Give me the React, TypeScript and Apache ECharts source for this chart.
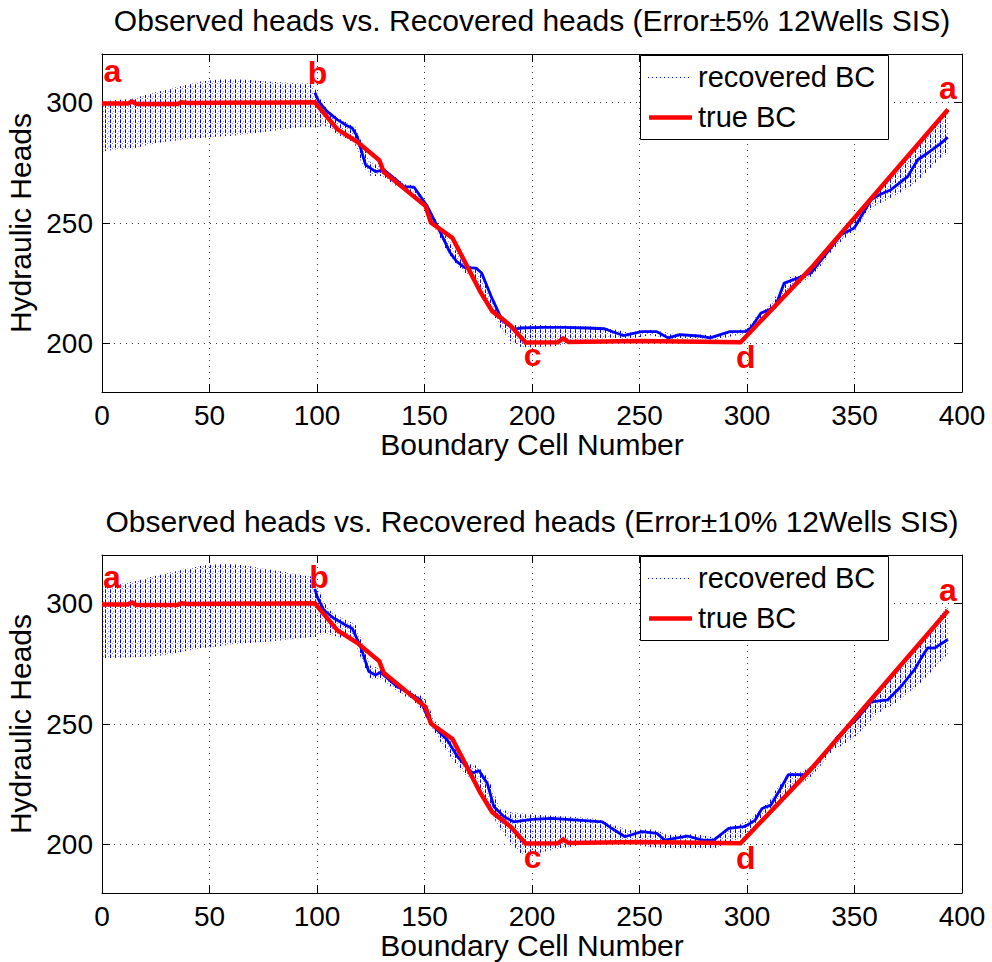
import React, { useEffect, useRef } from 'react';
import * as echarts from 'echarts';

const FONT = '"Liberation Sans", Arial, Helvetica, sans-serif';

// ---------- data ----------
const titles = [
  'Observed heads vs. Recovered heads (Error±5% 12Wells SIS)',
  'Observed heads vs. Recovered heads (Error±10% 12Wells SIS)',
];
const xAxisName = 'Boundary Cell Number';
const yAxisName = 'Hydraulic Heads';
const legendNames = ['recovered BC', 'true BC'];
const yTicks = [200, 250, 300];
const xRange = [0, 400];
const yRange = [180, 320];

// true boundary condition [cell, head] (same in both panels)
const trueBC = [
  [0, 299.5], [12, 299.5], [14, 300.3], [16, 299.3], [35, 299.3], [37, 300], [40, 299.7],
  [99, 300], [109.5, 288.8], [118.7, 283.6], [129, 276], [131, 271.2], [142, 263.2],
  [150.5, 257], [153, 250.2], [163, 243.8], [176, 221.5], [181.5, 213.5], [190, 207.5],
  [197, 200.5], [212, 200.6], [214.5, 202.2], [217, 200.7], [250, 201.1], [297, 200.6],
  [330, 231.5], [393.5, 297],
];

// dense part of the recovered realizations, ±5 %
const recoveredMid5 = [
  [99, 304], [100.8, 300.3], [104.7, 296.2], [109.4, 292.8], [114, 290.3], [116.4, 289.3],
  [118.7, 285.8], [122.6, 274.1], [127.2, 271.3], [131.1, 272], [136, 268.5], [140.4, 265.1],
  [145.1, 264.9], [151.3, 256.9], [156, 248.6], [159, 243.1], [161.7, 238], [165, 234],
  [168.7, 231.5], [174, 231.3], [176.6, 229.3], [181, 219.6], [186.2, 209.6], [191.5, 206],
  [195, 206.5], [205, 206.8], [215, 206.8], [225, 206.5], [233.7, 206.2], [242.4, 203.4],
  [251, 205], [258, 205], [263.4, 202.4], [268.7, 203.8], [277.5, 203.2], [282.8, 202.4],
  [292, 205], [299.5, 205.1], [301.8, 206.5], [306.5, 212.7], [310.3, 214.1], [313, 215],
  [317.3, 225.1], [323.6, 227.2], [329.8, 229.3], [335.9, 236.2], [343.7, 245.1],
  [349.9, 247.9], [357.7, 259.6], [361.6, 261.7], [367, 263.8], [374.8, 269.3],
  [379.4, 276.2], [384.1, 279], [390.3, 283.1], [393.4, 285.5],
];

// spread of the recovered realizations, ±5 %  [cell, low, high]
const recoveredSpread5 = [
  [0, 279.6, 300.3], [8, 280.5, 301], [15, 281, 301.7], [22, 282.5, 303.5], [30, 283.8, 305.2],
  [38, 284.5, 307], [46, 285.2, 308.6], [54, 285.8, 309.4], [61, 286.1, 309.6], [69, 287, 309.2],
  [77, 287.9, 308.6], [85, 288.8, 308.2], [92, 289.7, 307.9], [98, 289.7, 307.9], [100, 289.5, 304],
  [103, 290.5, 299], [106, 289, 296], [110, 286.5, 293.5], [115, 284.5, 291], [118, 282, 289.5],
  [121, 274, 283], [125, 269.5, 275], [130, 269.5, 273.5], [135, 266.5, 270], [140, 263.5, 266.5],
  [145, 262, 265.5], [150, 256.5, 259], [155, 247.5, 252], [160, 239, 244.5], [165, 232.5, 238],
  [170, 228.5, 232.5], [175, 225.5, 231], [180, 215, 222], [185, 207, 213], [190, 201, 208],
  [195, 198.5, 207.5], [200, 198.5, 207.8], [210, 199, 207.5], [220, 200.5, 207.3], [230, 202, 207],
  [237, 202.5, 206.3], [245, 202, 204.5], [255, 203.5, 205.8], [265, 201.8, 204.2], [275, 202, 204],
  [285, 201.5, 203.5], [295, 203.5, 205.5], [300, 204, 206.5], [305, 208, 212], [310, 212.5, 215.5],
  [315, 216, 221.5], [320, 223, 227.5], [325, 225, 228.5], [330, 228, 231], [335, 233, 237],
  [340, 239, 243], [345, 243.5, 247.5], [350, 246.5, 253], [355, 253.5, 258.5], [360, 257.5, 263.5],
  [365, 259.5, 268.5], [370, 262, 273], [375, 264.5, 278], [380, 268, 283.5], [385, 272.5, 288.5],
  [390, 277, 293.5], [393.5, 279, 296],
];

// dense part of the recovered realizations, ±10 %
const recoveredMid10 = [
  [99, 306], [100.1, 302.7], [103.2, 297.2], [107.8, 293.8], [113.3, 291], [116.4, 289.6],
  [120.3, 282], [124.1, 271.7], [127.2, 270.3], [129.6, 271.4], [137.3, 265.5], [144.3, 262],
  [148.2, 260], [151.3, 253], [154.4, 248.9], [160.6, 243.4], [165.3, 236.5], [172.3, 229.6],
  [175.3, 230.7], [179.2, 225.4], [182.3, 215.7], [187, 211.6], [191.5, 209.5], [200, 210.5],
  [209, 210.9], [221.3, 210.2], [232.7, 209.5], [237.1, 206.8], [243.2, 203.3], [251.1, 205.4],
  [258.1, 204.7], [261.7, 201.9], [272.2, 203.6], [279.2, 201.9], [284.5, 201.9], [291.5, 206.8],
  [298.5, 207.5], [300.3, 208.2], [303.8, 210.2], [307, 215], [311.1, 216.4], [316.1, 224],
  [319.2, 229], [326.6, 229], [334.4, 235.8], [342.2, 244.7], [346.8, 248.6], [351.5, 252.4],
  [357.7, 259.2], [365.5, 260], [371.6, 265.5], [377.8, 272.4], [381.5, 278], [384, 281.5],
  [387.2, 281.4], [393.4, 285],
];

// spread of the recovered realizations, ±10 %  [cell, low, high]
const recoveredSpread10 = [
  [0, 277.2, 306.9], [8, 277.4, 308], [15, 277.6, 309], [22, 278, 310.8], [30, 278.6, 312.4],
  [38, 280, 314], [46, 281.4, 315.5], [54, 282.1, 316.3], [61, 283.1, 316.3], [69, 283.6, 315.3],
  [77, 284.1, 314.1], [85, 284.8, 313], [92, 285.5, 311.7], [98, 286, 311], [100, 286, 308],
  [103, 288, 301], [106, 287, 297], [110, 286, 294.5], [115, 285, 292.5], [118, 283, 291],
  [121, 276, 284], [125, 268.5, 274], [130, 268.5, 273], [135, 265, 268.5], [140, 262, 265.5],
  [145, 259.5, 263], [150, 254, 261], [155, 246, 251], [160, 239, 245.5], [165, 233, 239],
  [170, 228, 234], [175, 225, 232.5], [180, 215, 227], [185, 206.5, 215], [190, 201, 213.5],
  [195, 196, 213], [200, 195.8, 212.5], [210, 198, 212], [220, 199.5, 211.5], [230, 201, 210.8],
  [237, 201.5, 208.5], [245, 200.5, 206], [255, 199, 206.5], [265, 198.5, 204], [275, 198.5, 204.5],
  [285, 198.5, 203], [292, 201, 207.5], [300, 204, 209.5], [305, 209, 214], [310, 213, 217.5],
  [315, 216, 225], [320, 222, 230], [325, 225, 230], [330, 228.5, 232.5], [335, 233.5, 237],
  [340, 239, 243.5], [345, 241.5, 248], [350, 244.5, 252.5], [355, 249, 257], [360, 254, 262],
  [365, 256.5, 267], [370, 259, 272.5], [375, 263, 277.5], [380, 266.5, 283], [385, 271, 289],
  [390, 276, 295], [393.5, 279, 300],
];

// boundary corner labels
const cornerNames = ['a', 'b', 'c', 'd', 'a'];
const corners5 = [[4.8, 312.8], [100.2, 312.2], [200.3, 195.2], [299.4, 194.3], [393.4, 305.8]];
const corners10 = [[4.6, 310.7], [100.9, 310.8], [200.3, 194.8], [299.4, 194.6], [393.4, 305.6]];

const panels = [
  { title: titles[0], mid: recoveredMid5, spread: recoveredSpread5, corners: corners5 },
  { title: titles[1], mid: recoveredMid10, spread: recoveredSpread10, corners: corners10 },
];

// ---------- layout ----------
const GRID_LEFT = 102;
const GRID_W = 860;
const GRID_H = 338;
const GRID_TOPS = [54, 555];

function makePattern() {
  const c = document.createElement('canvas');
  c.width = 5;
  c.height = 5;
  const ctx = c.getContext('2d')!;
  ctx.fillStyle = 'rgba(0,0,255,1)';
  ctx.fillRect(0, 0, 1, 3);
  ctx.fillStyle = 'rgba(0,0,255,0.7)';
  ctx.fillRect(0, 4, 1, 1);
  ctx.fillStyle = 'rgba(0,0,255,0.55)';
  ctx.fillRect(2, 3, 1, 1);
  ctx.fillStyle = 'rgba(0,0,255,0.4)';
  ctx.fillRect(3, 1, 1, 1);
  return { image: c.toDataURL(), repeat: 'repeat', imageWidth: 5, imageHeight: 5 };
}

export default function App() {
  const ref = useRef<HTMLDivElement>(null);
  useEffect(() => {
    const el = ref.current!;
    const chart = echarts.init(el, null, { renderer: 'svg' });
    const pattern = makePattern();

    const axisLineStyle = { color: '#000', width: 1 };
    const xAxes: any[] = [];
    const yAxes: any[] = [];
    const series: any[] = [];
    const graphics: any[] = [];

    panels.forEach((p, k) => {
      xAxes.push({
        type: 'value', gridIndex: k, min: xRange[0], max: xRange[1], interval: 50, position: 'bottom',
        axisLine: { show: true, onZero: false, lineStyle: axisLineStyle },
        axisTick: { show: true, inside: true, length: 8, lineStyle: axisLineStyle },
        axisLabel: { show: true, fontSize: 28, color: '#000', fontFamily: FONT, margin: 9, showMinLabel: true, showMaxLabel: true },
        splitLine: { show: true, lineStyle: { color: '#333', type: [1, 5], width: 1 } },
        name: xAxisName, nameLocation: 'middle', nameGap: 29,
        nameTextStyle: { fontSize: 30, color: '#000', fontFamily: FONT },
      });
      xAxes.push({
        type: 'value', gridIndex: k, min: xRange[0], max: xRange[1], interval: 50, position: 'top',
        axisLine: { show: true, onZero: false, lineStyle: axisLineStyle },
        axisTick: { show: true, inside: true, length: 8, lineStyle: axisLineStyle },
        axisLabel: { show: false },
        splitLine: { show: false },
        name: p.title, nameLocation: 'middle', nameGap: 19,
        nameTextStyle: { fontSize: 30, color: '#000', fontFamily: FONT },
      });
      yAxes.push({
        type: 'value', gridIndex: k, min: yRange[0], max: yRange[1], position: 'left',
        axisLine: { show: true, onZero: false, lineStyle: axisLineStyle },
        axisTick: { show: true, inside: true, length: 8, lineStyle: axisLineStyle, customValues: yTicks },
        axisLabel: { show: true, fontSize: 28, color: '#000', fontFamily: FONT, margin: 9, customValues: yTicks },
        splitLine: { show: true, lineStyle: { color: '#333', type: [1, 5], width: 1 } },
        name: yAxisName, nameLocation: 'middle', nameGap: 62, nameRotate: 90,
        nameTextStyle: { fontSize: 30, color: '#000', fontFamily: FONT },
      });
      yAxes.push({
        type: 'value', gridIndex: k, min: yRange[0], max: yRange[1], position: 'right',
        axisLine: { show: true, onZero: false, lineStyle: axisLineStyle },
        axisTick: { show: true, inside: true, length: 8, lineStyle: axisLineStyle, customValues: yTicks },
        axisLabel: { show: false, customValues: yTicks },
        splitLine: { show: false },
      });

      const xi = k * 2;
      const yi = k * 2;
      const spread = p.spread;
      series.push({
        type: 'custom', name: legendNames[0] + ' spread', xAxisIndex: xi, yAxisIndex: yi, z: 2,
        silent: true,
        data: spread.map((r) => [r[0], r[1], r[2]]),
        encode: { x: 0, y: [1, 2] },
        renderItem: (params: any, api: any) => {
          if (params.dataIndex !== 0) return null;
          const pts: number[][] = [];
          for (let i = 0; i < spread.length; i++) pts.push(api.coord([spread[i][0], spread[i][2]]));
          for (let i = spread.length - 1; i >= 0; i--) pts.push(api.coord([spread[i][0], spread[i][1]]));
          return { type: 'polygon', shape: { points: pts }, style: { fill: pattern, stroke: null } };
        },
      });
      series.push({
        type: 'line', name: legendNames[0], xAxisIndex: xi, yAxisIndex: yi, z: 3,
        data: p.mid, showSymbol: false, symbol: 'none', silent: true,
        lineStyle: { color: '#0000ff', width: 2.8 },
      });
      series.push({
        type: 'line', name: legendNames[1], xAxisIndex: xi, yAxisIndex: yi, z: 4,
        data: trueBC, showSymbol: false, symbol: 'none', silent: true,
        lineStyle: { color: '#ff0000', width: 4.5, join: 'miter' },
      });
      series.push({
        type: 'scatter', name: 'corners', xAxisIndex: xi, yAxisIndex: yi, z: 6, silent: true,
        symbolSize: 1, itemStyle: { color: 'rgba(0,0,0,0)' },
        data: p.corners.map((c, i) => ({ name: cornerNames[i], value: c })),
        label: {
          show: true, position: 'inside', formatter: '{b}', color: '#ff0000',
          fontSize: 32, fontWeight: 'bold', fontFamily: FONT,
          textBorderWidth: 0, textShadowBlur: 0, opacity: 1,
        },
      });

      const dy = GRID_TOPS[k] - GRID_TOPS[0];
      graphics.push(
        { type: 'rect', z: 100, shape: { x: 640.5, y: 55.5 + dy, width: 248, height: 84 }, style: { fill: '#fff', stroke: '#000', lineWidth: 1 } },
        { type: 'line', z: 101, shape: { x1: 648, y1: 77.5 + dy, x2: 691, y2: 77.5 + dy }, style: { stroke: '#0000ff', lineWidth: 1, lineDash: [1, 3] } },
        { type: 'text', z: 101, x: 698, y: 77 + dy, style: { text: legendNames[0], fontSize: 29, fontFamily: FONT, fill: '#000', align: 'left', verticalAlign: 'middle', textAlign: 'left', textVerticalAlign: 'middle' } },
        { type: 'line', z: 101, shape: { x1: 649, y1: 117.5 + dy, x2: 692, y2: 117.5 + dy }, style: { stroke: '#ff0000', lineWidth: 4.5 } },
        { type: 'text', z: 101, x: 698, y: 117 + dy, style: { text: legendNames[1], fontSize: 29, fontFamily: FONT, fill: '#000', align: 'left', verticalAlign: 'middle', textAlign: 'left', textVerticalAlign: 'middle' } },
      );
    });

    chart.setOption({
      animation: false,
      backgroundColor: '#fff',
      textStyle: { fontFamily: FONT },
      grid: GRID_TOPS.map((t) => ({ left: GRID_LEFT, top: t, width: GRID_W, height: GRID_H, containLabel: false, outerBoundsMode: 'none', show: false })),
      xAxis: xAxes,
      yAxis: yAxes,
      series,
      graphic: { elements: graphics },
    });
    return () => chart.dispose();
  }, []);
  return <div ref={ref} style={{ position: 'absolute', left: 0, top: 0, width: 992, height: 962, background: '#fff' }} />;
}
